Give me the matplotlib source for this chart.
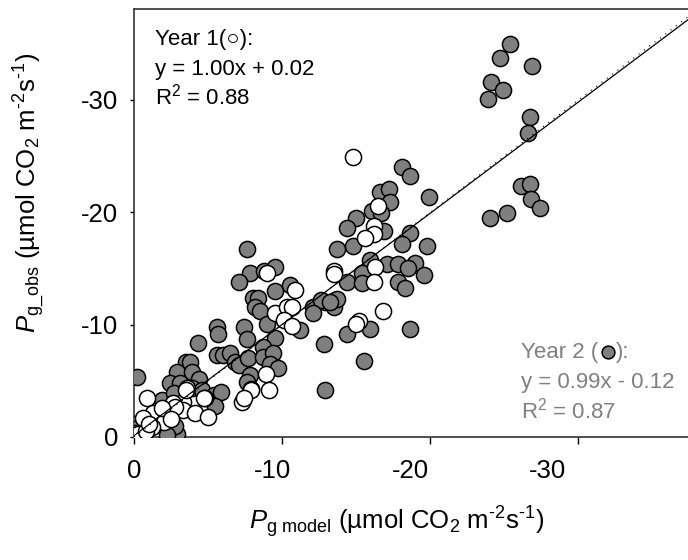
import matplotlib
matplotlib.use("Agg")
import matplotlib.pyplot as plt
from matplotlib.transforms import ScaledTranslation
import numpy as np

plt.rcParams['font.family'] = ['Liberation Sans', 'DejaVu Sans']
plt.rcParams['mathtext.fontset'] = 'custom'
plt.rcParams['mathtext.rm'] = 'Liberation Sans'
plt.rcParams['mathtext.it'] = 'Liberation Sans:italic'
plt.rcParams['mathtext.bf'] = 'Liberation Sans:bold'

# ---- data ----
year1_x = [-14.8, -16.5, -16.2, -16.2, -15.6, -16.3, -13.5, -13.5, -16.2, -16.8, -15.2, -15.0,
           -9.0, -10.9, -9.5, -10.3, -10.7, -10.1, -10.7, -8.9, -7.9, -9.1, -7.3, -7.4,
           -3.6, -4.8, -0.9, -3.3, -2.6, -3.3, -4.1, -5.0, -1.3, -2.0, -1.2, -0.6, 0.0,
           -3.5, -4.7, -2.8, -1.9, -0.3, -0.8, -1.0, -2.5]
year1_y = [-24.9, -20.6, -18.8, -18.1, -17.7, -15.1, -14.8, -14.5, -13.8, -11.2, -10.3, -10.1,
           -14.6, -13.1, -11.0, -11.6, -11.6, -10.4, -9.9, -5.6, -4.2, -4.2, -3.1, -3.5,
           -4.4, -3.5, -3.5, -3.1, -3.0, -2.4, -2.1, -1.8, -2.1, -1.3, -0.9, -1.7, 0.0,
           -4.2, -3.5, -2.7, -2.6, -0.3, -0.5, -1.2, -1.6]

year2_x = [-25.4, -24.7, -26.9, -24.1, -24.9, -23.9, -26.7, -26.6, -18.1, -18.6, -19.9, -26.1,
           -26.7, -26.8, -27.4, -24.0, -25.2, -18.6,
           -16.6, -17.2, -17.3, -16.1, -16.7, -15.0, -14.4, -16.9, -18.1, -19.8, -14.8, -13.7,
           -15.9, -17.1, -17.8, -19.0, -18.5, -19.6, -15.4, -14.4, -15.4, -17.8, -18.3, -12.9,
           -13.6, -13.5, -14.4, -15.9, -18.6, -12.8, -15.5, -12.9, -0.2, -13.7,
           -7.6, -7.8, -7.1, -8.8, -9.5, -9.5, -10.5, -8.0, -8.4, -8.2, -8.5, -12.1, -12.6,
           -12.1, -13.2, -11.2, -9.0, -9.5, -5.6, -5.7, -7.4, -7.6, -4.3, -5.6, -6.0, -6.5,
           -6.8, -7.1, -7.7, -8.7, -8.7, -9.4, -9.2, -9.7, -7.8, -7.6, -7.9, -3.5, -3.8,
           -2.9, -3.9, -4.4, -2.4, -3.1, -3.9, -4.6, -5.4, -5.9, -5.5, -2.2, -1.9, -2.7,
           -2.4, -2.7, -2.9, 0.0, -0.3, -0.1, -1.6, -2.5, -2.8, -2.2]
year2_y = [-35.0, -33.7, -33.0, -31.6, -30.9, -30.1, -28.5, -27.1, -24.0, -23.2, -21.4, -22.3,
           -22.5, -21.2, -20.4, -19.5, -19.9, -18.2,
           -21.8, -22.1, -20.9, -20.1, -19.9, -19.5, -18.6, -18.3, -17.2, -17.0, -17.0, -16.7,
           -15.8, -15.4, -15.4, -15.5, -15.0, -14.4, -14.6, -13.8, -13.7, -13.8, -13.3, -12.0,
           -12.2, -11.6, -9.2, -9.6, -9.6, -8.3, -6.8, -4.2, -5.3, -12.3,
           -16.7, -14.6, -13.8, -14.8, -15.1, -13.0, -13.5, -12.4, -12.4, -11.6, -11.2, -11.6, -12.2,
           -11.0, -12.0, -9.5, -10.1, -8.8, -9.8, -9.2, -9.8, -8.7, -8.4, -7.3, -7.3, -7.5,
           -6.7, -6.4, -7.0, -8.0, -7.1, -7.5, -6.5, -6.1, -5.5, -4.9, -4.3, -6.7, -6.7,
           -5.8, -5.8, -5.2, -4.8, -4.8, -4.4, -4.2, -3.7, -4.0, -2.8, -2.7, -3.3, -3.9,
           -0.9, -0.4, -0.3, -1.2, -0.8, -0.4, -1.5, -1.4, -1.0, -0.2]

fit_slope = 0.99
fit_intercept = -0.12
x_ticks = [0, -10, -20, -30]
y_ticks = [0, -10, -20, -30]
x_tick_labels = ['0', '-10', '-20', '-30']
y_tick_labels = ['0', '-10', '-20', '-30']

# ---- figure ----
fig = plt.figure(figsize=(6.88, 5.6), dpi=100)
ax = fig.add_axes([134/688, 1-437/560, 1-134/688, (437-9)/560])
ax.set_xlim(0, -37.4)
ax.set_ylim(0, -38.1)

grey = '#7f7f7f'
ax.scatter(year2_x, year2_y, s=135, c=grey, edgecolors='black', linewidths=1.1, zorder=3)
ax.scatter(year1_x, year1_y, s=135, c='white', edgecolors='black', linewidths=1.1, zorder=4)

xx = np.array([0, -37.4])
ax.plot(xx, xx, linestyle=(0, (1, 5)), color='black', lw=0.8, zorder=5)
ax.plot(xx, fit_slope*xx + fit_intercept, color='black', lw=0.9, zorder=5)

ax.set_xticks(x_ticks)
ax.set_xticklabels(x_tick_labels)
ax.set_yticks(y_ticks)
ax.set_yticklabels(y_tick_labels)
ax.tick_params(axis='x', direction='out', length=5, width=1, labelsize=18.5, pad=11)
ax.tick_params(axis='y', direction='out', length=3, width=1, labelsize=18.5, pad=8.5)

# shift x tick labels as in reference
offsets_px = [0, -10, -20, -31]
for lab, off in zip(ax.get_xticklabels(), offsets_px):
    lab.set_transform(lab.get_transform() + ScaledTranslation(off/100, 0, fig.dpi_scale_trans))

for s in ['left', 'bottom', 'top']:
    ax.spines[s].set_color('#333333')
    ax.spines[s].set_linewidth(1.2)
ax.spines['right'].set_visible(False)

unit = r' (µmol CO$_2$ m$^{\text{-}2}$s$^{\text{-}1}$)'
ax.set_xlabel(r'$P_{\mathrm{g\ model}}$' + unit, fontsize=18.5)
ax.set_ylabel(r'$P_{\mathrm{g\_obs}}$' + unit, fontsize=18.5)
ax.xaxis.set_label_coords((397-134)/554, (437-522)/428)
ax.xaxis.label.set_va('center')
ax.yaxis.set_label_coords((30-134)/554, (437-193)/428)
ax.yaxis.label.set_va('center')
ax.yaxis.label.set_ha('center')

# annotations
fs = 16
def fx(px): return px/688
def fy(py): return 1 - py/560
fig.text(fx(155), fy(45), 'Year 1(○):', fontsize=fs, va='baseline', ha='left',
         family=['Liberation Sans', 'DejaVu Sans'])
fig.text(fx(155), fy(75), 'y = 1.00x + 0.02', fontsize=fs, va='baseline', ha='left')
fig.text(fx(155), fy(104), r'R$^2$ = 0.88', fontsize=fs, va='baseline', ha='left')

c2 = '#808080'
t1 = fig.text(fx(521), fy(358), 'Year 2 (', fontsize=fs, va='baseline', ha='left', color=c2)
fig.canvas.draw()
bb = t1.get_window_extent()
mx = bb.x1 + 10
my = (fig.bbox.height - 352)
fig.text((mx + 8)/fig.bbox.width, fy(358), '):', fontsize=fs, va='baseline', ha='left', color=c2)
ax.plot([mx/fig.bbox.width], [my/fig.bbox.height], marker='o', ms=9.2, mfc=grey, mec='black',
        mew=1.1, transform=fig.transFigure, clip_on=False, zorder=10)
fig.text(fx(521), fy(388), 'y = 0.99x - 0.12', fontsize=fs, va='baseline', ha='left', color=c2)
fig.text(fx(521), fy(418), r'R$^2$ = 0.87', fontsize=fs, va='baseline', ha='left', color=c2)

fig.savefig('out.png', dpi=100)
